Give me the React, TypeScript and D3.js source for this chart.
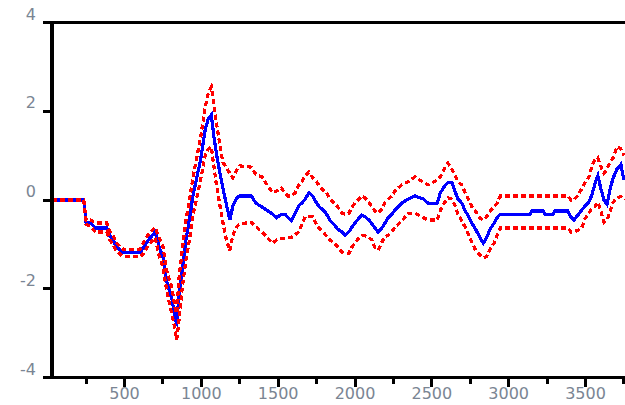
import React from "react";
import * as d3 from "d3";

// Sample positions along the horizontal axis
const xs = [
  25, 235, 250, 280, 310, 385, 405, 425, 445, 470, 495, 600, 625, 660, 700, 725, 750, 775, 810, 830,
  840, 855, 875, 900, 925, 945, 970, 995, 1025, 1045, 1065, 1080, 1100, 1120, 1140, 1160, 1185, 1205, 1230, 1250,
  1325, 1355, 1395, 1435, 1465, 1490, 1520, 1545, 1565, 1585, 1610, 1635, 1655, 1675, 1700, 1725, 1750, 1770, 1800, 1815,
  1835, 1865, 1885, 1915, 1935, 1960, 1980, 2000, 2020, 2045, 2065, 2090, 2110, 2130, 2150, 2175, 2195, 2215, 2240, 2260,
  2280, 2305, 2345, 2390, 2445, 2475, 2535, 2555, 2580, 2605, 2630, 2650, 2670, 2695, 2715, 2740, 2760, 2780, 2815, 2835,
  2855, 2880, 2905, 2925, 2945, 3140, 3150, 3225, 3235, 3290, 3300, 3385, 3405, 3425, 3450, 3475, 3495, 3520, 3540, 3560,
  3580, 3600, 3620, 3640, 3660, 3680, 3705, 3730, 3750,
];

// Mean response
const center = [
  0, 0, -0.5, -0.52, -0.63, -0.63, -0.81, -0.9, -1.04, -1.13, -1.19, -1.19, -1.06, -0.88, -0.72, -1.06, -1.28, -1.85, -2.25, -2.7,
  -2.77, -2.14, -1.58, -0.9, -0.38, 0.09, 0.5, 0.9, 1.58, 1.83, 1.92, 1.47, 1.01, 0.63, 0.27, -0.05, -0.45, -0.14, 0.05, 0.09,
  0.09, -0.07, -0.16, -0.25, -0.32, -0.4, -0.32, -0.32, -0.4, -0.47, -0.3, -0.12, -0.07, 0.02, 0.16, 0.09, -0.07, -0.16, -0.25, -0.32,
  -0.45, -0.56, -0.65, -0.72, -0.79, -0.72, -0.61, -0.52, -0.43, -0.34, -0.38, -0.45, -0.54, -0.63, -0.72, -0.63, -0.52, -0.4, -0.32, -0.23,
  -0.16, -0.07, 0.02, 0.09, 0.02, -0.07, -0.07, 0.16, 0.3, 0.4, 0.4, 0.2, 0.02, -0.07, -0.23, -0.38, -0.52, -0.63, -0.86, -0.97,
  -0.86, -0.65, -0.52, -0.4, -0.32, -0.32, -0.25, -0.25, -0.32, -0.32, -0.25, -0.25, -0.38, -0.45, -0.34, -0.23, -0.14, -0.05, 0.1, 0.35,
  0.55, 0.25, 0.0, -0.1, 0.25, 0.5, 0.7, 0.8, 0.45,
];

// Upper confidence bound
const upper = [
  0, 0, -0.45, -0.45, -0.52, -0.52, -0.72, -0.8, -0.95, -1.05, -1.12, -1.12, -0.95, -0.75, -0.62, -0.85, -1.05, -1.6, -2.0, -2.45,
  -2.55, -1.75, -1.15, -0.45, 0.05, 0.5, 0.95, 1.4, 2.1, 2.4, 2.55, 2.2, 1.7, 1.25, 0.85, 0.75, 0.6, 0.5, 0.68, 0.77,
  0.74, 0.58, 0.52, 0.3, 0.16, 0.2, 0.27, 0.15, 0.09, 0.09, 0.16, 0.34, 0.41, 0.55, 0.63, 0.5, 0.41, 0.3, 0.2, 0.16,
  0.02, -0.07, -0.14, -0.3, -0.32, -0.3, -0.16, -0.07, 0.0, 0.09, 0.05, -0.05, -0.16, -0.25, -0.3, -0.2, -0.05, 0.02, 0.09, 0.2,
  0.27, 0.34, 0.41, 0.52, 0.4, 0.34, 0.45, 0.52, 0.7, 0.83, 0.7, 0.55, 0.41, 0.34, 0.18, 0.0, -0.15, -0.23, -0.42, -0.45,
  -0.38, -0.25, -0.15, -0.07, 0.09, 0.09, 0.09, 0.09, 0.09, 0.09, 0.09, 0.09, 0.0, 0.0, 0.11, 0.25, 0.38, 0.5, 0.75, 0.9,
  0.95, 0.75, 0.6, 0.7, 0.85, 0.95, 1.2, 1.15, 1.0,
];

// Lower confidence bound
const lower = [
  0, 0, -0.55, -0.6, -0.72, -0.72, -0.9, -1.0, -1.13, -1.22, -1.28, -1.28, -1.2, -1.0, -0.85, -1.25, -1.5, -2.05, -2.6, -2.95,
  -3.15, -2.7, -2.0, -1.35, -0.85, -0.35, 0.05, 0.45, 1.0, 1.15, 1.2, 0.8, 0.3, -0.1, -0.5, -0.85, -1.15, -0.8, -0.6, -0.54,
  -0.5, -0.6, -0.72, -0.87, -0.97, -0.9, -0.87, -0.87, -0.85, -0.85, -0.78, -0.72, -0.55, -0.38, -0.38, -0.38, -0.55, -0.65, -0.75, -0.82,
  -0.9, -0.97, -1.05, -1.18, -1.2, -1.2, -1.06, -0.97, -0.88, -0.8, -0.8, -0.85, -0.9, -1.07, -1.13, -0.95, -0.82, -0.8, -0.72, -0.6,
  -0.55, -0.47, -0.3, -0.3, -0.4, -0.45, -0.45, -0.23, -0.07, 0.05, 0.02, -0.12, -0.32, -0.47, -0.6, -0.8, -0.95, -1.1, -1.25, -1.3,
  -1.28, -1.1, -0.97, -0.8, -0.63, -0.63, -0.63, -0.63, -0.63, -0.63, -0.63, -0.63, -0.72, -0.72, -0.68, -0.63, -0.43, -0.3, -0.2, -0.15,
  -0.05, -0.25, -0.5, -0.45, -0.25, -0.05, 0.05, 0.08, 0.0,
];

const yTicks = [4, 2, 0, -2, -4];
const yTickLabels = ["4", "2", "0", "-2", "-4"];
const xMajorTicks = [500, 1000, 1500, 2000, 2500, 3000, 3500];
const xTickLabels = ["500", "1000", "1500", "2000", "2500", "3000", "3500"];
const xMinorTicks = [250, 750, 1250, 1750, 2250, 2750, 3250, 3750];

const W = 625;
const H = 405;
const plotLeft = 52;
const plotRight = 625.5;
const plotTop = 22.5;
const plotBottom = 377.5;

export default function App() {
  const x = d3.scaleLinear().domain([25, 3760]).range([plotLeft - 0.5, plotRight]);
  const y = d3.scaleLinear().domain([-4, 4]).range([plotBottom, plotTop]);

  const mk = (vals: number[]) =>
    d3
      .line<number>()
      .x((_, i) => x(xs[i]))
      .y((v) => y(v))(vals) || "";

  const labelColor = "#7a8593";

  return (
    <div style={{ position: "fixed", left: 0, top: 0, width: W, height: H, background: "#fff" }}>
      <svg width={W} height={H} style={{ display: "block" }}>
        <defs>
          <clipPath id="plotClip">
            <rect x={plotLeft} y={plotTop - 4} width={W - plotLeft} height={plotBottom - plotTop + 8} />
          </clipPath>
        </defs>

        {/* series */}
        <g clipPath="url(#plotClip)" fill="none" strokeLinejoin="miter" shapeRendering="crispEdges">
          <path d={mk(center)} stroke="#0000ff" strokeWidth={3.2} />
          <path d={mk(upper)} stroke="#ff0000" strokeWidth={3.2} strokeDasharray="5 3" />
          <path d={mk(lower)} stroke="#ff0000" strokeWidth={3.2} strokeDasharray="5 3" />
        </g>

        {/* frame: left, top, bottom */}
        <g stroke="#000" shapeRendering="crispEdges">
          <line x1={plotLeft} x2={plotLeft} y1={plotTop - 1.5} y2={plotBottom + 1.5} strokeWidth={4} />
          <line x1={plotLeft - 9} x2={W} y1={plotTop} y2={plotTop} strokeWidth={3} />
          <line x1={plotLeft - 9} x2={W} y1={plotBottom} y2={plotBottom} strokeWidth={3} />
          {yTicks.map((t) => (
            <line key={"yt" + t} x1={plotLeft - 9} x2={plotLeft} y1={y(t)} y2={y(t)} strokeWidth={3} />
          ))}
          {xMajorTicks.map((t) => (
            <line key={"xM" + t} x1={x(t)} x2={x(t)} y1={plotBottom} y2={plotBottom + 9} strokeWidth={3} />
          ))}
          {xMinorTicks.map((t) => (
            <line key={"xm" + t} x1={x(t)} x2={x(t)} y1={plotBottom} y2={plotBottom + 6} strokeWidth={3} />
          ))}
        </g>

        {/* tick labels */}
        <g fontFamily="DejaVu Sans, sans-serif" fontSize={16} fill={labelColor}>
          {yTicks.map((t, i) => (
            <text key={"yl" + t} x={36} y={y(t) - 3} textAnchor="end">
              {yTickLabels[i]}
            </text>
          ))}
          {xMajorTicks.map((t, i) => (
            <text key={"xl" + t} x={x(t)} y={399} textAnchor="middle">
              {xTickLabels[i]}
            </text>
          ))}
        </g>
      </svg>
    </div>
  );
}
